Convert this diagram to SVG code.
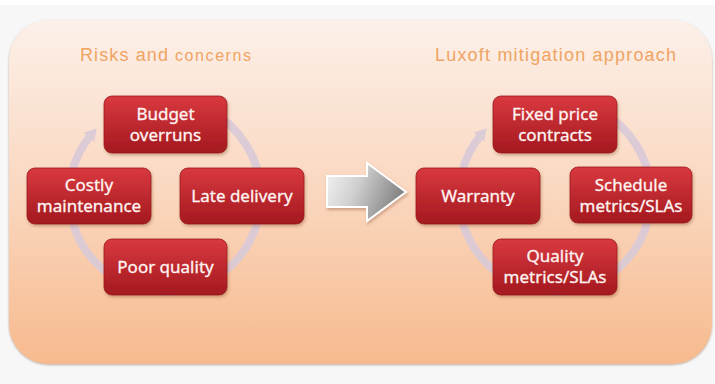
<svg xmlns="http://www.w3.org/2000/svg" width="715" height="384" viewBox="0 0 715 384">
  <defs>
    <linearGradient id="panelGrad" x1="0" y1="0" x2="0" y2="1">
      <stop offset="0" stop-color="#fcf0e9"/>
      <stop offset="0.5" stop-color="#fad7bf"/>
      <stop offset="1" stop-color="#f7ba8e"/>
    </linearGradient>
    <linearGradient id="boxGrad" x1="0" y1="0" x2="0" y2="1">
      <stop offset="0" stop-color="#d9393f"/>
      <stop offset="1" stop-color="#a3191f"/>
    </linearGradient>
    <linearGradient id="arrowGrad" x1="0" y1="0" x2="1" y2="0.3">
      <stop offset="0" stop-color="#f4f4f4"/>
      <stop offset="0.45" stop-color="#d0d0d0"/>
      <stop offset="1" stop-color="#858585"/>
    </linearGradient>
    <filter id="shadow" x="-10%" y="-10%" width="125%" height="130%">
      <feDropShadow dx="1" dy="2" stdDeviation="1.5" flood-color="#7a3a20" flood-opacity="0.35"/>
    </filter>
    <filter id="panelShadow" x="-5%" y="-5%" width="110%" height="110%">
      <feDropShadow dx="0" dy="1" stdDeviation="1.2" flood-color="#806050" flood-opacity="0.5"/>
    </filter>
    <marker id="ringHead" markerUnits="userSpaceOnUse" markerWidth="16" markerHeight="16" refX="4" refY="8" orient="auto">
      <path d="M0,1 L12,8 L0,15 Z" fill="#d9cad8"/>
    </marker>
    <style>
      .ring { fill: none; stroke: #d9cad8; stroke-width: 8; opacity: 0.9; }
      .box { fill: url(#boxGrad); stroke: #9a1a1f; stroke-width: 0.8; filter: url(#shadow); }
      .lbl { font-family: "Noto Sans", "Open Sans", sans-serif; font-size: 17px; fill: #fff4f2; stroke: #fff4f2; stroke-width: 0.3; text-anchor: middle; }
      .title { font-family: "Liberation Sans", Arial, sans-serif; fill: #efa463; }
    </style>
  </defs>

  <rect x="0" y="0" width="715" height="384" fill="#f7f7f7"/>
  <rect x="0" y="0" width="715" height="5" fill="#ffffff"/>

  <g id="panel">
    <rect x="9" y="20" width="703" height="344" rx="40" ry="40" fill="url(#panelGrad)" filter="url(#panelShadow)"/>
  </g>

  <g id="titles">
    <text class="title" x="80" y="61" font-size="18" textLength="88" lengthAdjust="spacing">Risks and</text>
    <text class="title" x="175" y="61" font-size="16" textLength="76" lengthAdjust="spacing">concerns</text>
    <text class="title" x="435" y="61" font-size="18" textLength="241" lengthAdjust="spacing">Luxoft mitigation approach</text>
  </g>

  <g id="connectors">
    <path class="ring" d="M105.9,120.4 A96,96 0 1 1 91.5,134.3" marker-end="url(#ringHead)"/>
    <path class="ring" d="M495.9,120.4 A96,96 0 1 1 481.5,134.3" marker-end="url(#ringHead)"/>
    <g id="bigArrow" filter="url(#shadow)">
      <path d="M327,176 L367,176 L367,163 L406,192 L367,221 L367,207 L327,207 Z" fill="url(#arrowGrad)" stroke="#ffffff" stroke-width="2" stroke-linejoin="miter"/>
    </g>
  </g>

  <g id="node-budget">
    <rect class="box" x="104" y="96" width="123" height="57" rx="8"/>
    <text class="lbl" x="165.5" y="120">Budget</text>
    <text class="lbl" x="165.5" y="141">overruns</text>
  </g>
  <g id="node-costly">
    <rect class="box" x="27" y="168" width="124" height="56" rx="8"/>
    <text class="lbl" x="89" y="191">Costly</text>
    <text class="lbl" x="89" y="212">maintenance</text>
  </g>
  <g id="node-late">
    <rect class="box" x="180" y="168" width="124" height="56" rx="8"/>
    <text class="lbl" x="242" y="202">Late delivery</text>
  </g>
  <g id="node-poor">
    <rect class="box" x="104" y="239" width="123" height="56" rx="8"/>
    <text class="lbl" x="165.5" y="273">Poor quality</text>
  </g>

  <g id="node-fixed">
    <rect class="box" x="493" y="96" width="124" height="57" rx="8"/>
    <text class="lbl" x="555" y="120">Fixed price</text>
    <text class="lbl" x="555" y="141">contracts</text>
  </g>
  <g id="node-warranty">
    <rect class="box" x="416" y="168" width="124" height="56" rx="8"/>
    <text class="lbl" x="478" y="202">Warranty</text>
  </g>
  <g id="node-schedule">
    <rect class="box" x="570" y="167" width="122" height="56" rx="8"/>
    <text class="lbl" x="631" y="191">Schedule</text>
    <text class="lbl" x="631" y="212">metrics/SLAs</text>
  </g>
  <g id="node-quality">
    <rect class="box" x="493" y="239" width="124" height="56" rx="8"/>
    <text class="lbl" x="555" y="262">Quality</text>
    <text class="lbl" x="555" y="283">metrics/SLAs</text>
  </g>
</svg>
